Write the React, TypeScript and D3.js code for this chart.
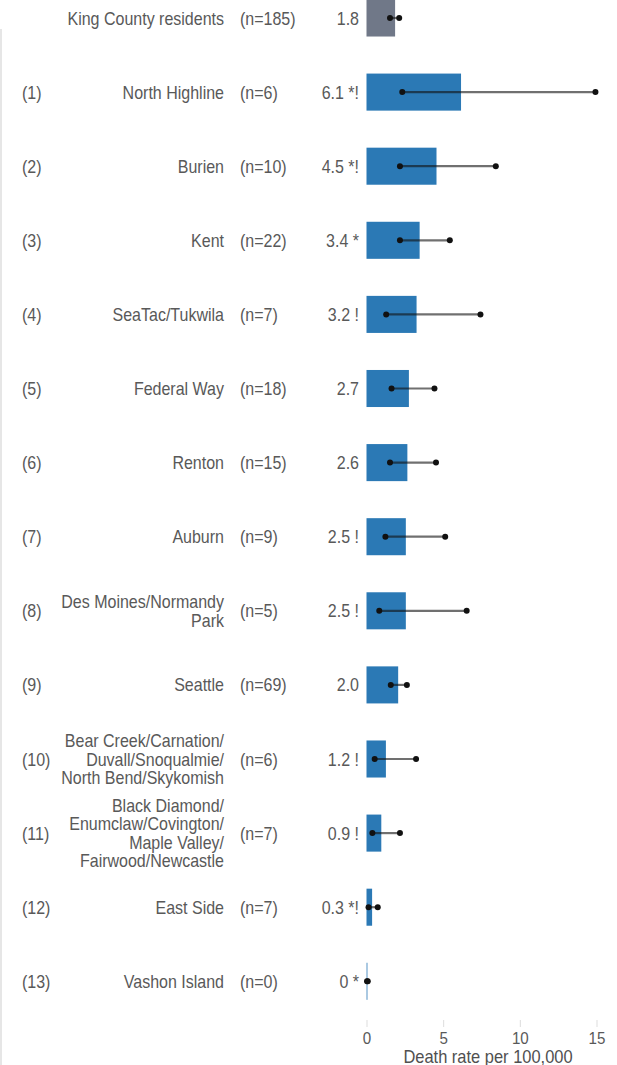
import React from "react";
import * as d3 from "d3";

const regionIndex = ["", "(1)", "(2)", "(3)", "(4)", "(5)", "(6)", "(7)", "(8)", "(9)", "(10)", "(11)", "(12)", "(13)"];
const regionLines: string[][] = [
  ["King County residents"],
  ["North Highline"],
  ["Burien"],
  ["Kent"],
  ["SeaTac/Tukwila"],
  ["Federal Way"],
  ["Renton"],
  ["Auburn"],
  ["Des Moines/Normandy", "Park"],
  ["Seattle"],
  ["Bear Creek/Carnation/", "Duvall/Snoqualmie/", "North Bend/Skykomish"],
  ["Black Diamond/", "Enumclaw/Covington/", "Maple Valley/", "Fairwood/Newcastle"],
  ["East Side"],
  ["Vashon Island"],
];
const counts = [185, 6, 10, 22, 7, 18, 15, 9, 5, 69, 6, 7, 7, 0];
const rates = [1.8, 6.1, 4.5, 3.4, 3.2, 2.7, 2.6, 2.5, 2.5, 2.0, 1.2, 0.9, 0.3, 0];
const rateLabels = ["1.8", "6.1", "4.5", "3.4", "3.2", "2.7", "2.6", "2.5", "2.5", "2.0", "1.2", "0.9", "0.3", "0"];
const flags = ["", "*!", "*!", "*", "!", "", "", "!", "!", "", "!", "!", "*!", "*"];
const lower = [1.5, 2.3, 2.15, 2.15, 1.25, 1.6, 1.5, 1.2, 0.8, 1.55, 0.5, 0.35, 0.1, 0];
const upper = [2.1, 14.9, 8.4, 5.4, 7.4, 4.4, 4.5, 5.1, 6.5, 2.6, 3.2, 2.15, 0.7, 0.05];
const xTicks = [0, 5, 10, 15];
const axisTitle = "Death rate per 100,000";

const W = 617;
const H = 1065;
const FONT = "'Liberation Sans', Arial, sans-serif";
const SX = 0.89;
const TXT = "#595959";

function T(props: { x: number; y: number; anchor?: string; size?: number; fill?: string; children: React.ReactNode }) {
  const { x, y, anchor = "start", size = 18, fill = TXT, children } = props;
  return (
    <text
      transform={`translate(${x},${y}) scale(${SX},1)`}
      textAnchor={anchor as any}
      fontSize={size}
      fontFamily={FONT}
      fill={fill}
    >
      {children}
    </text>
  );
}

export default function App() {
  const idx = d3.range(rates.length);
  const y = d3
    .scaleBand<number>()
    .domain(idx)
    .range([-19.05, -19.05 + 74.1 * rates.length])
    .paddingInner(0.5)
    .paddingOuter(0.25);
  const x = d3.scaleLinear().domain([0, 15]).range([367, 597]);
  const capOff = 6.5;
  const lineH = 18.5;

  return (
    <svg
      width={W}
      height={H}
      style={{ position: "absolute", left: 0, top: 0, background: "#fff" }}
    >
      <line x1={1} x2={1} y1={29} y2={H} stroke="#e6e6e6" strokeWidth={2} />
      {idx.map((i) => {
        const cy = y(i)! + y.bandwidth() / 2;
        const lines = regionLines[i];
        const startY = cy - ((lines.length - 1) * lineH) / 2;
        const fill = i === 0 ? "#707888" : "#2b79b5";
        return (
          <g key={i}>
            <rect
              x={x(0) - 0.5}
              y={y(i)!}
              width={Math.max(0, x(rates[i]) - x(0)) + 1}
              height={y.bandwidth()}
              fill={fill}
              opacity={rates[i] === 0 ? 0.8 : 1}
            />
            <line
              x1={x(lower[i])}
              x2={x(upper[i])}
              y1={cy}
              y2={cy}
              stroke="#111"
              strokeOpacity={0.6}
              strokeWidth={2.2}
            />
            <circle cx={x(lower[i])} cy={cy} r={3} fill="#111" />
            <circle cx={x(upper[i])} cy={cy} r={3} fill="#111" />
            {regionIndex[i] && (
              <T x={22} y={cy + capOff}>{regionIndex[i]}</T>
            )}
            {lines.map((ln, k) => (
              <T key={k} x={224} y={startY + k * lineH + capOff} anchor="end">
                {ln}
              </T>
            ))}
            <T x={240} y={cy + capOff}>{`(n=${counts[i]})`}</T>
            <T x={359} y={cy + capOff} anchor="end">
              {flags[i] ? `${rateLabels[i]} ${flags[i]}` : rateLabels[i]}
            </T>
          </g>
        );
      })}
      {xTicks.map((t) => (
        <g key={t}>
          <line x1={x(t)} x2={x(t)} y1={1020} y2={1027} stroke="#dddddd" strokeWidth={1} />
          <T x={x(t)} y={1044} anchor="middle" size={17}>{t}</T>
        </g>
      ))}
      <T x={488} y={1063} anchor="middle" size={18.5} fill="#505050">{axisTitle}</T>
    </svg>
  );
}
